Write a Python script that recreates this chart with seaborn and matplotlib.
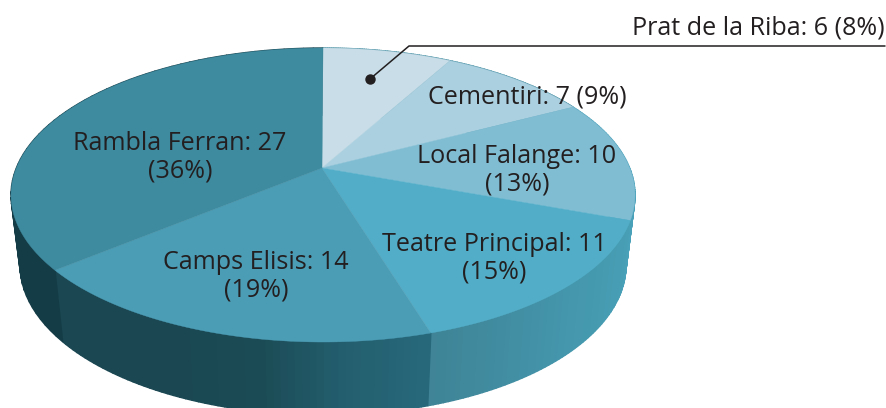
import numpy as np
import matplotlib
matplotlib.use("Agg")
import matplotlib.pyplot as plt
import seaborn as sns

# dades: clockwise from the top
llocs = ["Prat de la Riba", "Cementiri", "Local Falange", "Teatre Principal", "Camps Elisis", "Rambla Ferran"]
valors = [6, 7, 10, 11, 14, 27]
percent = [8, 9, 13, 15, 19, 36]

colors_top = ["#c8dde7", "#abd0df", "#80bdd3", "#52aec8", "#4b9db6", "#3e8a9f"]
# side colours along every slice
colors_side = [["#3e8a9f", "#3e8a9f"], ["#3e8a9f", "#3e8a9f"], ["#49a1b9", "#49a1b9"],
               ["#48a0b6", "#4496ac", "#3f8497"],
               ["#27697b", "#235e6e", "#1b4b55", "#1a4752", "#1a4752", "#1a4752"],
               ["#143c46", "#143c46", "#15404b"]]

sns.set_theme(style="white")
plt.rcParams['font.family'] = ['Open Sans', 'DejaVu Sans']

# top ellipse and bottom ellipse of the disc, in pixels
cx, cy, rx, ry = 323, 195, 312, 147
cx2, cy2, rx2, ry2 = 323, 265, 303, 150
apex = (322, 168)
persp = 0.094


def vers_ellipse(phi):
    # perspective: angle on the true circle -> angle on the drawn ellipse
    z = np.exp(1j * phi)
    return np.angle((z + persp) / (1 + persp * z))


def rim(t):
    return cx + rx * np.sin(t), cy - ry * np.cos(t)


def rim_bas(t):
    return cx2 + rx2 * np.sin(t), cy2 - ry2 * np.cos(t)


fig = plt.figure(figsize=(8.87, 4.08), dpi=100)
ax = fig.add_axes([0, 0, 1, 1])
ax.set_xlim(0, 887)
ax.set_ylim(408, 0)
ax.axis("off")

limits = np.cumsum([0] + valors) / sum(valors) * 2 * np.pi

# side of the disc first
for i in range(len(valors)):
    n = 60
    phi = np.linspace(limits[i], limits[i + 1], n + 1)
    t = np.unwrap(vers_ellipse(phi))
    pal = sns.blend_palette(colors_side[i], n_colors=n)
    for k in range(n):
        xa, ya = rim(t[k])
        xb, yb = rim(t[k + 1])
        xc, yc = rim_bas(t[k + 1])
        xd, yd = rim_bas(t[k])
        ax.fill([xa, xb, xc, xd], [ya, yb, yc, yd], color=pal[k], lw=1.0, zorder=1)

# top face
for i in range(len(valors)):
    phi = np.linspace(limits[i], limits[i + 1], 120)
    x, y = rim(vers_ellipse(phi))
    ax.fill(np.r_[apex[0], x], np.r_[apex[1], y], color=colors_top[i], lw=0.3, zorder=2)

txt = "#231f20"
fs = 18.1
ls = 1.15
ax.text(180, 157, f"{llocs[5]}: {valors[5]}\n({percent[5]}%)", ha="center", va="center", fontsize=fs, color=txt, zorder=3, linespacing=ls)
ax.text(256, 276, f"{llocs[4]}: {valors[4]}\n({percent[4]}%)", ha="center", va="center", fontsize=fs, color=txt, zorder=3, linespacing=ls)
ax.text(494, 258, f"{llocs[3]}: {valors[3]}\n({percent[3]}%)", ha="center", va="center", fontsize=fs, color=txt, zorder=3, linespacing=ls)
ax.text(517, 170, f"{llocs[2]}: {valors[2]}\n({percent[2]}%)", ha="center", va="center", fontsize=fs, color=txt, zorder=3, linespacing=ls)
ax.text(527, 97, f"{llocs[1]}: {valors[1]} ({percent[1]}%)", ha="center", va="center", fontsize=fs, color=txt, zorder=3)
ax.text(885, 28, f"{llocs[0]}: {valors[0]} ({percent[0]}%)", ha="right", va="center", fontsize=fs, color=txt, zorder=3)

# leader line
ax.plot([370, 409, 885], [79, 46, 46], color="#231f20", lw=1.1, zorder=3)
ax.plot([370], [79], "o", color="#231f20", ms=6.5, zorder=3)

fig.savefig("out.png", dpi=100)
